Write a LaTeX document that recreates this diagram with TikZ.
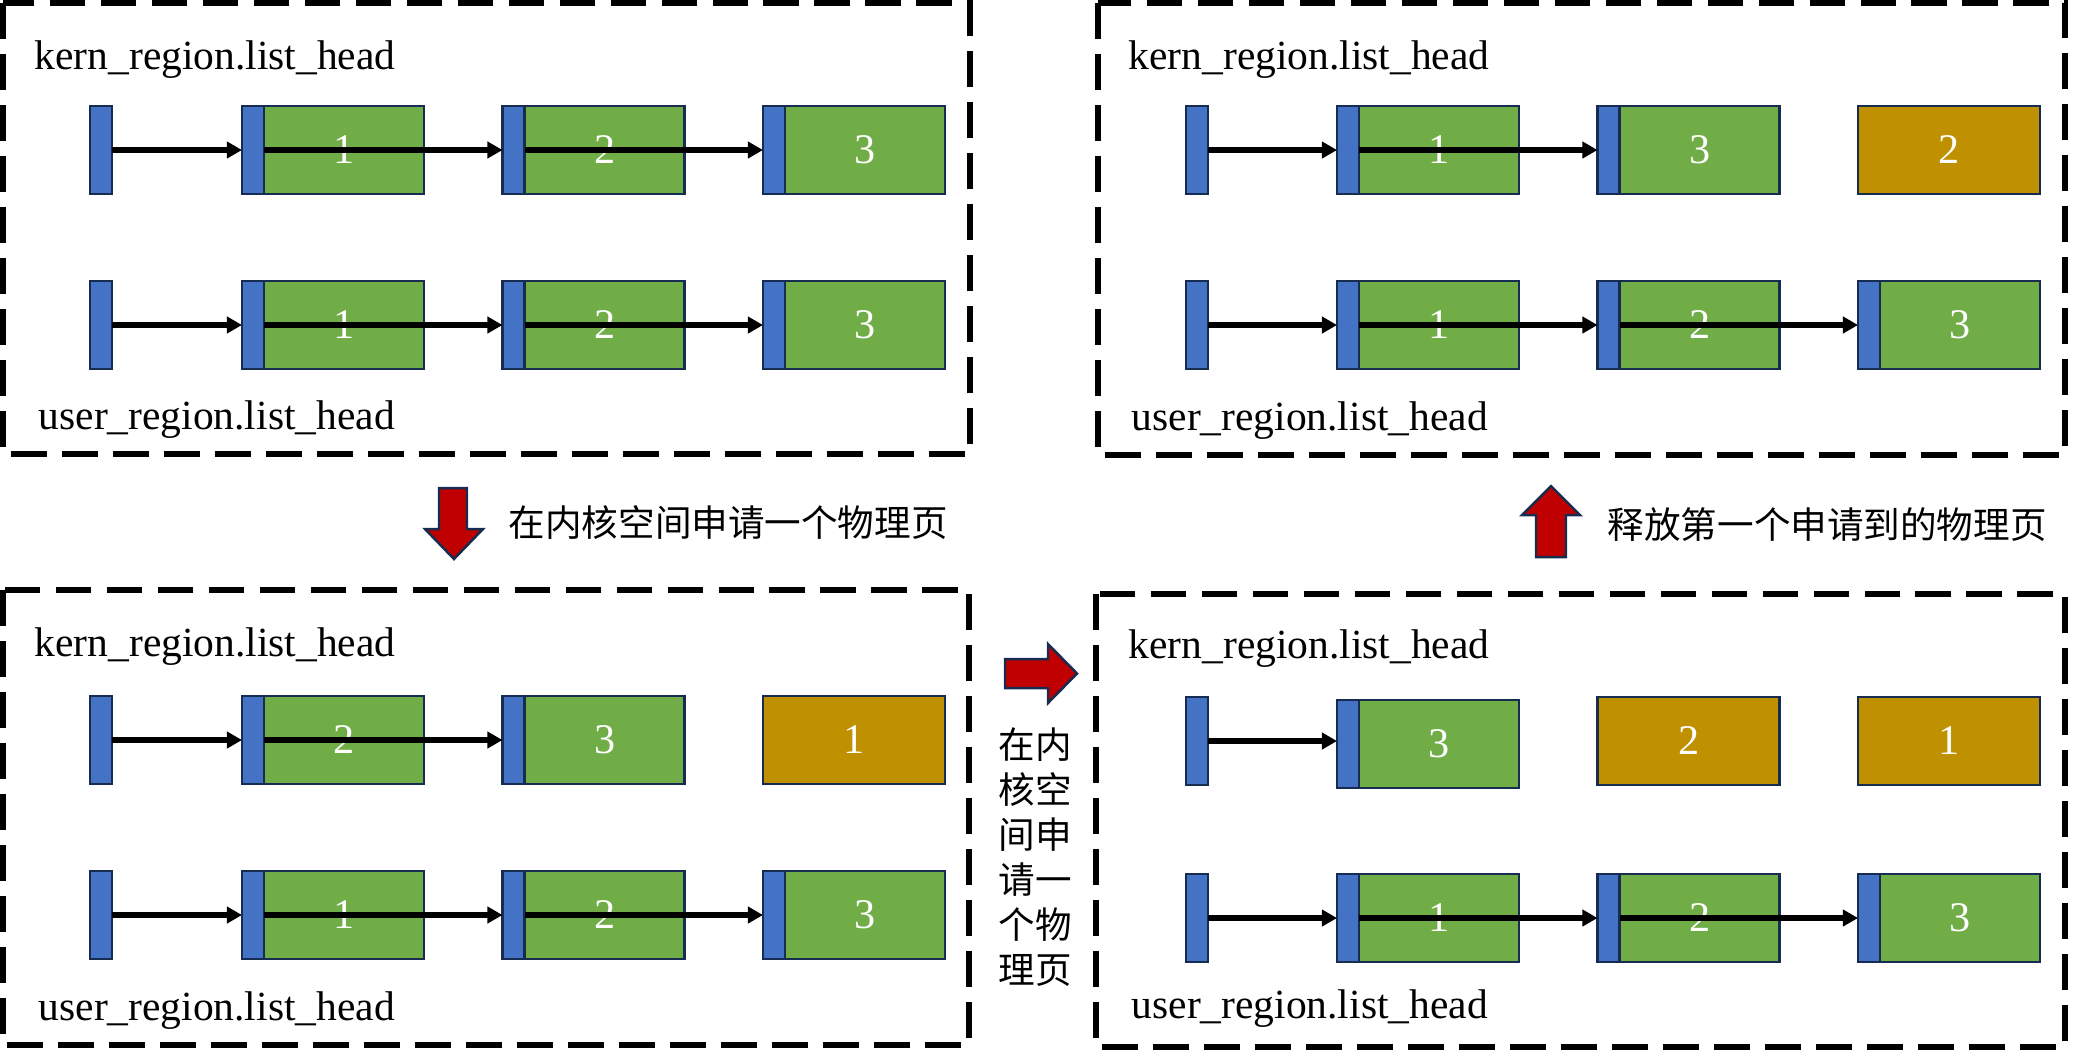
\documentclass[tikz,border=0pt]{standalone}
\usepackage{fontspec}
\setmainfont{Liberation Serif}
\newfontfamily\cjk{Noto Sans CJK SC}
\usetikzlibrary{arrows.meta}
\definecolor{navy}{HTML}{172C51}
\definecolor{hblue}{HTML}{4472C4}
\definecolor{pgreen}{HTML}{70AD47}
\definecolor{porange}{HTML}{BF9000}
\definecolor{ared}{HTML}{C00000}
\newcommand\gpage[4]{% name, x-left, y-center, number
  \node[pg, fill=pgreen, anchor=west] (#1) at (#2,#3) {};
  \node[hbar, anchor=west] (#1s) at (#1.west) {};
  \node[num] at ([xshift=0.11cm]#1.center) {#4};
}
\newcommand\opage[4]{% name, x-left, y-center, number
  \node[pg, fill=porange, anchor=west] (#1) at (#2,#3) {};
  \node[num] at (#1.center) {#4};
}
\begin{document}
\begin{tikzpicture}[x=0.01cm,y=-0.01cm,
  hbar/.style={draw=navy, line width=0.7pt, fill=hblue, minimum width=0.22cm, minimum height=0.88cm, inner sep=0, outer sep=0},
  pg/.style={draw=navy, line width=0.7pt, minimum width=1.82cm, minimum height=0.88cm, inner sep=0, outer sep=0},
  num/.style={text=white, font=\fontsize{12pt}{14pt}\selectfont, inner sep=0},
  lbl/.style={anchor=base west, inner sep=0, font=\fontsize{11.8pt}{14pt}\selectfont},
  conn/.style={line width=1.6pt, -{Triangle[length=4.3pt,width=4.6pt]}},
  panel/.style={line width=1.5pt, dash pattern=on 10.2pt off 4.3pt},
  redarrow/.style={fill=ared, draw=navy, line width=0.7pt},
  cn/.style={font=\cjk\fontsize{10.4pt}{12.8pt}\selectfont, inner sep=0}]
\useasboundingbox (0,0) rectangle (2084,1056);

% panels
\draw[panel] (3,3) rectangle (970,454);
\draw[panel] (1098,3) rectangle (2065,455);
\draw[panel] (3,590) rectangle (969,1045);
\draw[panel] (1096,594) rectangle (2065,1047);

% ---------- top-left ----------
\node[lbl] (tlk) at (34,69) {kern\_region.list\_head};
\node[lbl] (tlu) at (38,429) {user\_region.list\_head};
\node[hbar, anchor=west] (tla0) at (90,150) {};
\gpage{tla1}{242}{150}{1}
\gpage{tla2}{502.5}{150}{2}
\gpage{tla3}{763}{150}{3}
\node[hbar, anchor=west] (tlb0) at (90,325) {};
\gpage{tlb1}{242}{325}{1}
\gpage{tlb2}{502.5}{325}{2}
\gpage{tlb3}{763}{325}{3}
\draw[conn] (tla0.east) -- (tla1.west);
\draw[conn] (tla1s.east) -- (tla2.west);
\draw[conn] (tla2s.east) -- (tla3.west);
\draw[conn] (tlb0.east) -- (tlb1.west);
\draw[conn] (tlb1s.east) -- (tlb2.west);
\draw[conn] (tlb2s.east) -- (tlb3.west);

% ---------- top-right ----------
\node[lbl] (trk) at (1128,69) {kern\_region.list\_head};
\node[lbl] (tru) at (1131,430) {user\_region.list\_head};
\node[hbar, anchor=west] (tra0) at (1186,150) {};
\gpage{tra1}{1337}{150}{1}
\gpage{tra2}{1597.5}{150}{3}
\opage{tra3}{1858}{150}{2}
\node[hbar, anchor=west] (trb0) at (1186,325) {};
\gpage{trb1}{1337}{325}{1}
\gpage{trb2}{1597.5}{325}{2}
\gpage{trb3}{1858}{325}{3}
\draw[conn] (tra0.east) -- (tra1.west);
\draw[conn] (tra1s.east) -- (tra2.west);
\draw[conn] (trb0.east) -- (trb1.west);
\draw[conn] (trb1s.east) -- (trb2.west);
\draw[conn] (trb2s.east) -- (trb3.west);

% ---------- bottom-left ----------
\node[lbl] (blk) at (34,656) {kern\_region.list\_head};
\node[lbl] (blu) at (38,1020) {user\_region.list\_head};
\node[hbar, anchor=west] (bla0) at (90,740) {};
\gpage{bla1}{242}{740}{2}
\gpage{bla2}{502.5}{740}{3}
\opage{bla3}{763}{740}{1}
\node[hbar, anchor=west] (blb0) at (90,915) {};
\gpage{blb1}{242}{915}{1}
\gpage{blb2}{502.5}{915}{2}
\gpage{blb3}{763}{915}{3}
\draw[conn] (bla0.east) -- (bla1.west);
\draw[conn] (bla1s.east) -- (bla2.west);
\draw[conn] (blb0.east) -- (blb1.west);
\draw[conn] (blb1s.east) -- (blb2.west);
\draw[conn] (blb2s.east) -- (blb3.west);

% ---------- bottom-right ----------
\node[lbl] (brk) at (1128,658) {kern\_region.list\_head};
\node[lbl] (bru) at (1131,1018) {user\_region.list\_head};
\node[hbar, anchor=west] (bra0) at (1186,741) {};
\gpage{bra1}{1337}{744}{3}
\opage{bra2}{1597.5}{741}{2}
\opage{bra3}{1858}{741}{1}
\node[hbar, anchor=west] (brb0) at (1186,918) {};
\gpage{brb1}{1337}{918}{1}
\gpage{brb2}{1597.5}{918}{2}
\gpage{brb3}{1858}{918}{3}
\draw[conn] (bra0.east) -- (bra0.east -| bra1s.west);
\draw[conn] (brb0.east) -- (brb1.west);
\draw[conn] (brb1s.east) -- (brb2.west);
\draw[conn] (brb2s.east) -- (brb3.west);

% ---------- red transition arrows ----------
\draw[redarrow] (439,488) -- (467,488) -- (467,529) -- (483,529) -- (454,559) -- (425,529) -- (439,529) -- cycle;
\node[cn, anchor=west] (t1) at (508,523) {在内核空间申请一个物理页};

\draw[redarrow] (1005,659) -- (1048,659) -- (1048,644) -- (1077,673.5) -- (1048,703) -- (1048,688) -- (1005,688) -- cycle;
\node[cn, align=center] (t2) at (1035,857) {在内\\核空\\间申\\请一\\个物\\理页};

\draw[redarrow] (1536,557) -- (1566,557) -- (1566,515) -- (1580,515) -- (1551,486) -- (1522,515) -- (1536,515) -- cycle;
\node[cn, anchor=west] (t3) at (1607,525) {释放第一个申请到的物理页};
\end{tikzpicture}
\end{document}
